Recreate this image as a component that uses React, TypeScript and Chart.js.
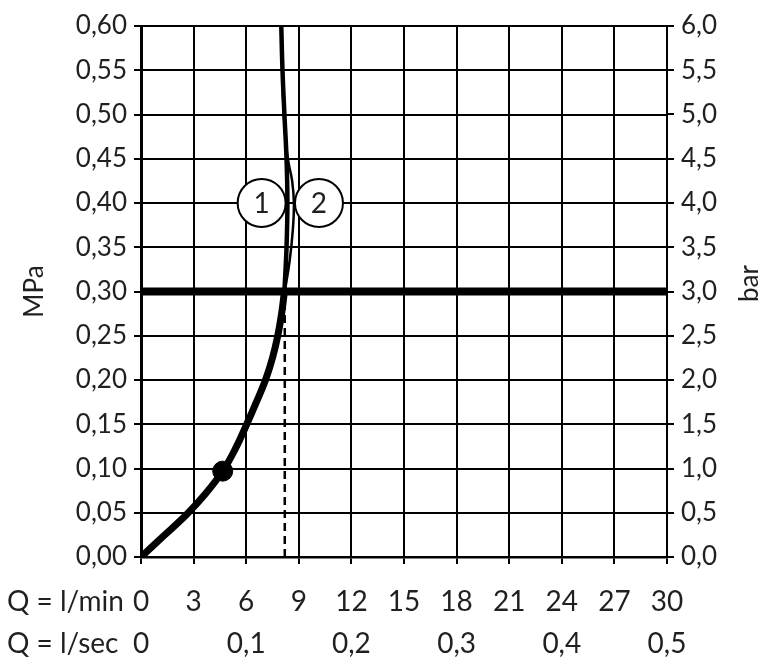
import React, { useEffect, useRef } from "react";
import { Chart, registerables } from "chart.js";

Chart.register(...registerables);

// Flow (l/min) vs pressure (MPa) — curve 1, lower (heavy) and upper part
const curve1LowX = [0, 1.3, 2.6, 3.7, 4.66, 5.4, 6.03, 6.58, 7.1, 7.5, 7.8, 8.02, 8.18];
const curve1LowY = [0, 0.024, 0.048, 0.072, 0.097, 0.123, 0.15, 0.175, 0.2, 0.225, 0.25, 0.275, 0.3];
const curve1HighX = [8.18, 8.3, 8.35, 8.3, 8.18, 8.07, 8.0];
const curve1HighY = [0.3, 0.35, 0.4, 0.45, 0.5, 0.55, 0.6];
// curve 2
const curve2X = [8.2, 8.48, 8.66, 8.72, 8.62, 8.42, 8.25, 8.1, 8.02];
const curve2Y = [0.3, 0.335, 0.37, 0.4, 0.425, 0.445, 0.47, 0.52, 0.6];
const dotX = [4.66];
const dotY = [0.097];
const limitY = 0.3;
const limitRangeX = [0, 30];
const dashX = 8.2;
const dashRangeY = [0, 0.3];
const markerLabels = ["1", "2"];
const markerX = [6.88, 10.15];
const markerY = [0.4, 0.4];

const xMinLabels = ["0", "3", "6", "9", "12", "15", "18", "21", "24", "27", "30"];
const xSecLabels = ["0", "", "0,1", "", "0,2", "", "0,3", "", "0,4", "", "0,5"];
const rowTitles = ["Q = l/min", "Q = l/sec"];
const yLeftTitle = "MPa";
const yRightTitle = "bar";

const INK = "#231f20";
const FONT = "Lato, 'Open Sans', sans-serif";

export default function App() {
  const ref = useRef<HTMLCanvasElement>(null);
  useEffect(() => {
    document.body.style.margin = "0";
    const ctx = ref.current!;
    const pts = (xs: number[], ys: number[]) => xs.map((x, i) => ({ x, y: ys[i] }));

    const textPlugin = {
      id: "texts",
      afterDatasetsDraw(chart: any) {
        const c = chart.ctx;
        const meta = chart.getDatasetMeta(6);
        c.save();
        c.fillStyle = INK;
        c.textAlign = "center";
        c.textBaseline = "middle";
        c.font = `28px ${FONT}`;
        meta.data.forEach((el: any, i: number) => {
          c.fillText(markerLabels[i], el.x, el.y + 1);
        });
        c.restore();
      },
      afterDraw(chart: any) {
        const c = chart.ctx;
        const a = chart.chartArea;
        c.save();
        c.fillStyle = INK;
        c.font = `28px ${FONT}`;
        c.textAlign = "left";
        c.textBaseline = "middle";
        c.fillText(rowTitles[0], 7, a.bottom + 45);
        c.fillText(rowTitles[1], 7, a.bottom + 87);
        c.font = `26px ${FONT}`;
        c.textAlign = "center";
        const mid = (a.top + a.bottom) / 2;
        c.save();
        c.translate(35, mid);
        c.rotate(-Math.PI / 2);
        c.fillText(yLeftTitle, 0, 0);
        c.restore();
        c.save();
        c.translate(750, mid - 8);
        c.rotate(-Math.PI / 2);
        c.fillText(yRightTitle, 0, 0);
        c.restore();
        c.restore();
      },
    };

    const chart = new Chart(ctx, {
      type: "line",
      data: {
        datasets: [
          {
            data: pts(curve1LowX, curve1LowY),
            borderColor: "#000",
            borderWidth: 7,
            pointRadius: 0,
            tension: 0.4,
            fill: false,
            order: 3,
          },
          {
            data: pts(curve1HighX, curve1HighY),
            borderColor: "#000",
            borderWidth: 4.5,
            pointRadius: 0,
            tension: 0.4,
            fill: false,
            order: 3,
          },
          {
            data: pts(curve2X, curve2Y),
            borderColor: "#000",
            borderWidth: 2.5,
            pointRadius: 0,
            tension: 0.4,
            fill: false,
            order: 4,
          },
          {
            data: pts(dotX, dotY),
            showLine: false,
            pointRadius: 10,
            pointBackgroundColor: "#000",
            pointBorderColor: "#000",
            order: 2,
          },
          {
            data: pts(limitRangeX, [limitY, limitY]),
            borderColor: "#000",
            borderWidth: 8,
            pointRadius: 0,
            order: 5,
          },
          {
            data: pts([dashX, dashX], dashRangeY),
            borderColor: "#000",
            borderWidth: 2.5,
            borderDash: [8, 5],
            pointRadius: 0,
            order: 6,
          },
          {
            data: pts(markerX, markerY),
            showLine: false,
            pointRadius: 24,
            pointBorderWidth: 2,
            pointBackgroundColor: "#fff",
            pointBorderColor: "#000",
            order: 1,
          },
        ],
      },
      options: {
        responsive: false,
        animation: false,
        events: [],
        layout: { padding: { top: 24, left: 0, right: 0, bottom: 0 } },
        plugins: { legend: { display: false }, tooltip: { enabled: false }, title: { display: false } },
        scales: {
          x: {
            type: "linear",
            min: 0,
            max: 30,
            ticks: {
              stepSize: 3,
              padding: 17,
              color: INK,
              font: { family: FONT, size: 28, lineHeight: 1.5 },
              maxRotation: 0,
              autoSkip: false,
              callback: (_v: any, i: number) => [xMinLabels[i], xSecLabels[i]],
            },
            grid: { color: "#000", lineWidth: 2, tickLength: 7, drawTicks: true },
            border: { color: "#000", width: 2.5 },
            afterFit: (s: any) => {
              s.height = 106;
            },
          },
          y: {
            type: "linear",
            position: "left",
            min: 0,
            max: 0.6,
            ticks: {
              stepSize: 0.05,
              padding: 7,
              color: INK,
              font: { family: FONT, size: 26 },
              callback: (v: any) => Number(v).toFixed(2).replace(".", ","),
            },
            grid: { color: "#000", lineWidth: 2, tickLength: 7 },
            border: { color: "#000", width: 3 },
            afterFit: (s: any) => {
              s.width = 141;
            },
          },
          y2: {
            type: "linear",
            position: "right",
            min: 0,
            max: 6,
            ticks: {
              stepSize: 0.5,
              padding: 7,
              color: INK,
              font: { family: FONT, size: 26 },
              callback: (v: any) => Number(v).toFixed(1).replace(".", ","),
            },
            grid: { color: "#000", lineWidth: 2, tickLength: 7, drawOnChartArea: false },
            border: { color: "#000", width: 2 },
            afterFit: (s: any) => {
              s.width = 101;
            },
          },
        },
      },
      plugins: [textPlugin],
    } as any);
    return () => chart.destroy();
  }, []);
  return (
    <div style={{ width: 768, height: 663, background: "#fff" }}>
      <canvas ref={ref} width={768} height={663} />
    </div>
  );
}
